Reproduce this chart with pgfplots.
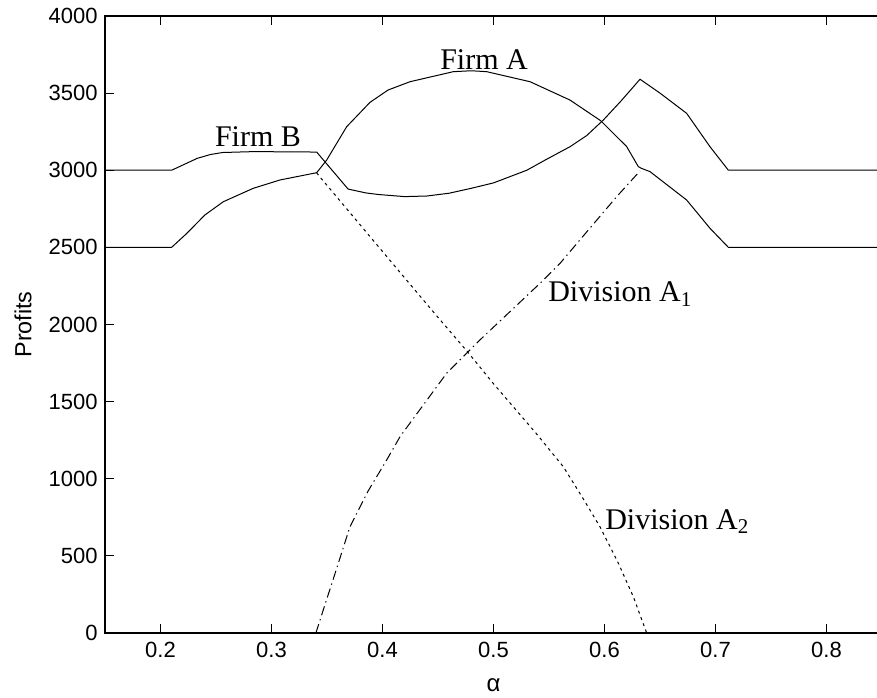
\documentclass[border=0pt]{standalone}
\usepackage{fontspec}
\setmainfont{Liberation Serif}
\setsansfont{Liberation Sans}
\usepackage{pgfplots}
\pgfplotsset{compat=1.18}
\begin{document}
\begin{tikzpicture}
\begin{axis}[
  at={(0pt,0pt)}, anchor=south west,
  scale only axis, width=582.75pt, height=462.75pt,
  xmin=0.15, xmax=0.85, ymin=0, ymax=4000,
  xtick={0.2,0.3,0.4,0.5,0.6,0.7,0.8},
  ytick={0,500,1000,1500,2000,2500,3000,3500,4000},
  ytick pos=left,
  scaled ticks=false,
  tick align=inside, major tick length=7pt,
  tick style={line width=0.75pt, black},
  axis line style={line width=0.9pt, black},
  tick label style={font=\sffamily\fontsize{16.5}{19}\selectfont},
  /pgf/number format/assume math mode=true,
  xticklabel style={/pgf/number format/fixed, /pgf/number format/precision=1, /pgf/number format/fixed zerofill, yshift=-3.5pt},
  yticklabel style={/pgf/number format/set thousands separator={}, xshift=-2pt},
  xlabel={α}, ylabel={Profits},
  xlabel style={font=\sffamily\fontsize{18}{20}\selectfont, at={(axis description cs:0.5,-0.0843)}, anchor=center},
  ylabel style={font=\sffamily\fontsize{17.5}{20}\selectfont, at={(axis description cs:-0.1055,0.5)}, anchor=center},
]
% Firm B curve
\addplot[black, line width=0.75pt] coordinates {
(0.15,3000)(0.21,3000)(0.222,3040)(0.233,3077)(0.245,3102)(0.256,3115)(0.28,3120)(0.30,3120)(0.3407,3118)
(0.369,2878)(0.385,2853)(0.396,2843)(0.42,2829)(0.44,2833)(0.46,2851)(0.48,2883)(0.50,2918)(0.53,3000)
(0.545,3060)(0.569,3153)(0.584,3225)(0.599,3326)(0.615,3450)(0.632,3590)(0.65,3500)(0.674,3369)(0.695,3153)
(0.7116,3000)(0.85,3000)};
% Firm A curve
\addplot[black, line width=0.75pt] coordinates {
(0.15,2500)(0.21,2500)(0.2236,2590)(0.24,2710)(0.2566,2796)(0.2836,2883)(0.3077,2937)(0.3407,2984)
(0.3497,3066)(0.3677,3282)(0.3887,3440)(0.405,3520)(0.4248,3574)(0.4638,3639)(0.48,3645)(0.4939,3639)
(0.5329,3574)(0.5689,3455)(0.5966,3321)(0.62,3153)(0.6305,3023)(0.6334,3012)(0.641,2991)(0.674,2807)
(0.695,2624)(0.7116,2500)(0.85,2500)};
% Division A2 (dotted)
\addplot[black, line width=0.75pt, dash pattern=on 2.2pt off 2.8pt] coordinates {
(0.3407,2984)(0.3422,2969)(0.3857,2596)(0.42,2302)(0.45,2046)(0.4758,1830)(0.50,1616)(0.5389,1290)
(0.5629,1078)(0.58,880)(0.5959,689)(0.612,460)(0.626,235)(0.638,0)};
% Division A1 (dash-dot)
\addplot[black, line width=0.75pt, dash pattern=on 7pt off 3pt on 1pt off 3pt] coordinates {
(0.340,0)(0.348,180)(0.3554,344)(0.3707,689)(0.387,920)(0.4038,1122)(0.4158,1273)(0.4578,1684)(0.4878,1900)(0.5419,2267)
(0.56,2397)(0.611,2829)(0.626,2948)(0.632,2995)};
\node[font=\fontsize{22.5}{26}\selectfont, anchor=base, inner sep=0pt] at (axis cs:0.2878,3151) {Firm B};
\node[font=\fontsize{22.5}{26}\selectfont, anchor=base, inner sep=0pt] at (axis cs:0.4915,3654) {Firm A};
\node[font=\fontsize{22.5}{26}\selectfont, anchor=base west, inner sep=0pt] at (axis cs:0.5491,2148) {Division A\textsubscript{1}};
\node[font=\fontsize{22.5}{26}\selectfont, anchor=base west, inner sep=0pt] at (axis cs:0.6005,672) {Division A\textsubscript{2}};
\end{axis}
\pgfresetboundingbox
\path[use as bounding box] (-78.75pt,-48.75pt) rectangle (579pt,474.75pt);
\end{tikzpicture}
\end{document}
